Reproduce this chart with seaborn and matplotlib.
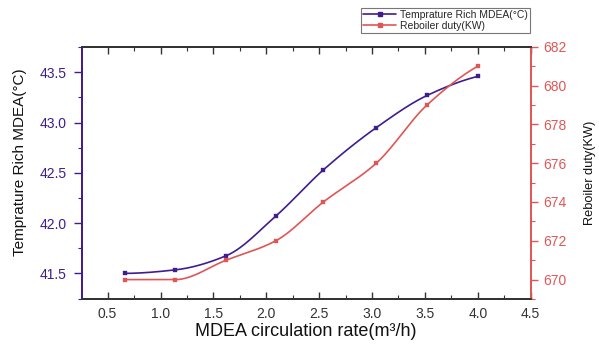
import numpy as np
import pandas as pd
import matplotlib
matplotlib.use("Agg")
import matplotlib.pyplot as plt
import seaborn as sns
from matplotlib.ticker import MultipleLocator, FormatStrFormatter
from matplotlib.lines import Line2D

# ---- data ----
flow_rate = [0.66, 1.14, 1.62, 2.09, 2.54, 3.04, 3.52, 4.00]
temp_rich = [41.50, 41.535, 41.675, 42.07, 42.53, 42.95, 43.27, 43.46]
reboiler_duty = [670, 670, 671, 672, 674, 676, 679, 681]

temp_label = "Temprature Rich MDEA(\u00b0C)"
duty_label = "Reboiler duty(KW)"
x_label = "MDEA circulation rate(m\u00b3/h)"

PURPLE = "#3f1d8f"
RED = "#df5656"


def pchip(x, y, n=300):
    """Shape-preserving cubic Hermite curve through the points (for drawing)."""
    x = np.asarray(x, float)
    y = np.asarray(y, float)
    h = np.diff(x)
    delta = np.diff(y) / h
    k = len(x)
    d = np.zeros(k)
    for i in range(1, k - 1):
        if delta[i - 1] * delta[i] > 0:
            w1 = 2 * h[i] + h[i - 1]
            w2 = h[i] + 2 * h[i - 1]
            d[i] = (w1 + w2) / (w1 / delta[i - 1] + w2 / delta[i])
        else:
            d[i] = 0.0

    def end(h0, h1, del0, del1):
        dd = ((2 * h0 + h1) * del0 - h0 * del1) / (h0 + h1)
        if np.sign(dd) != np.sign(del0):
            dd = 0.0
        elif np.sign(del0) != np.sign(del1) and abs(dd) > abs(3 * del0):
            dd = 3 * del0
        return dd

    d[0] = end(h[0], h[1], delta[0], delta[1])
    d[-1] = end(h[-1], h[-2], delta[-1], delta[-2])
    xs = np.linspace(x[0], x[-1], n)
    ys = np.empty_like(xs)
    for j, xv in enumerate(xs):
        i = min(np.searchsorted(x, xv, side="right") - 1, k - 2)
        t = (xv - x[i]) / h[i]
        h00 = 2 * t ** 3 - 3 * t ** 2 + 1
        h10 = t ** 3 - 2 * t ** 2 + t
        h01 = -2 * t ** 3 + 3 * t ** 2
        h11 = t ** 3 - t ** 2
        ys[j] = h00 * y[i] + h10 * h[i] * d[i] + h01 * y[i + 1] + h11 * h[i] * d[i + 1]
    return xs, ys


sns.set_theme(style="white")
plt.rcParams["font.family"] = ["Liberation Sans", "DejaVu Sans"]

fig = plt.figure(figsize=(5.99, 3.44), dpi=100)
ax = fig.add_axes([0.1364, 0.1308, 0.7496, 0.7334])
ax2 = ax.twinx()

df = pd.DataFrame({"x": flow_rate, "t": temp_rich, "d": reboiler_duty})
xs, ts = pchip(flow_rate, temp_rich)
xs2, ds = pchip(flow_rate, reboiler_duty)
smooth_t = pd.DataFrame({"x": xs, "y": ts})
smooth_d = pd.DataFrame({"x": xs2, "y": ds})

sns.lineplot(data=smooth_t, x="x", y="y", ax=ax, color=PURPLE, lw=1.2)
sns.scatterplot(data=df, x="x", y="t", ax=ax, color=PURPLE, marker="s", s=10,
                edgecolor=PURPLE, zorder=3)
sns.lineplot(data=smooth_d, x="x", y="y", ax=ax2, color=RED, lw=1.2)
sns.scatterplot(data=df, x="x", y="d", ax=ax2, color=RED, marker="s", s=10,
                edgecolor=RED, zorder=3)

ax.set_xlim(0.255, 4.5)
ax.set_ylim(41.245, 43.755)
ax2.set_ylim(669.0, 682.0)

ax.xaxis.set_major_locator(MultipleLocator(0.5))
ax.xaxis.set_minor_locator(MultipleLocator(0.25))
ax.xaxis.set_major_formatter(FormatStrFormatter("%.1f"))
ax.yaxis.set_major_locator(MultipleLocator(0.5))
ax.yaxis.set_minor_locator(MultipleLocator(0.25))
ax.yaxis.set_major_formatter(FormatStrFormatter("%.1f"))
ax2.yaxis.set_major_locator(MultipleLocator(2))
ax2.yaxis.set_minor_locator(MultipleLocator(1))

ax.tick_params(axis="x", which="both", direction="in", top=True, bottom=True,
               colors="#333333", labelsize=10, pad=6)
ax.tick_params(axis="x", which="major", length=5, width=1)
ax.tick_params(axis="x", which="minor", length=3, width=0.8)
ax.tick_params(axis="y", which="both", direction="out", left=True, right=False,
               color=PURPLE, labelcolor=PURPLE, labelsize=10)
ax.tick_params(axis="y", which="major", length=6, width=1, pad=5)
ax.tick_params(axis="y", which="minor", length=3, width=0.8)
ax2.tick_params(axis="y", which="both", direction="out", right=True,
                color=RED, labelcolor=RED, labelsize=10)
ax2.tick_params(axis="y", which="major", length=5, width=1, pad=4)
ax2.tick_params(axis="y", which="minor", length=3, width=0.8)

for a in (ax, ax2):
    for s in a.spines.values():
        s.set_linewidth(1.3)
        s.set_color("#333333")
ax2.spines["left"].set_color(PURPLE)
ax2.spines["right"].set_color(RED)
ax.spines["left"].set_color(PURPLE)
ax.spines["right"].set_color(RED)

ax.set_xlabel(x_label, fontsize=13, color="#111111", labelpad=1)
ax.set_ylabel(temp_label, fontsize=11, color="#111111")
ax.yaxis.set_label_coords(-0.122, 0.541)
ax2.set_ylabel(duty_label, fontsize=9.2, color="#111111")
ax2.yaxis.set_label_coords(1.118, 0.501)

handles = [
    Line2D([], [], color=PURPLE, lw=1.2, marker="s", markersize=3),
    Line2D([], [], color=RED, lw=1.2, marker="s", markersize=3),
]
leg = fig.legend(handles, [temp_label, duty_label], loc="upper right",
                 bbox_to_anchor=(0.884, 0.977), fontsize=7.5, frameon=True,
                 fancybox=False, borderpad=0.2, handlelength=3.2,
                 labelspacing=0.1, handletextpad=0.3, borderaxespad=0)
leg.get_frame().set_edgecolor("#555555")
leg.get_frame().set_linewidth(0.8)

fig.savefig("out.png", dpi=100)
